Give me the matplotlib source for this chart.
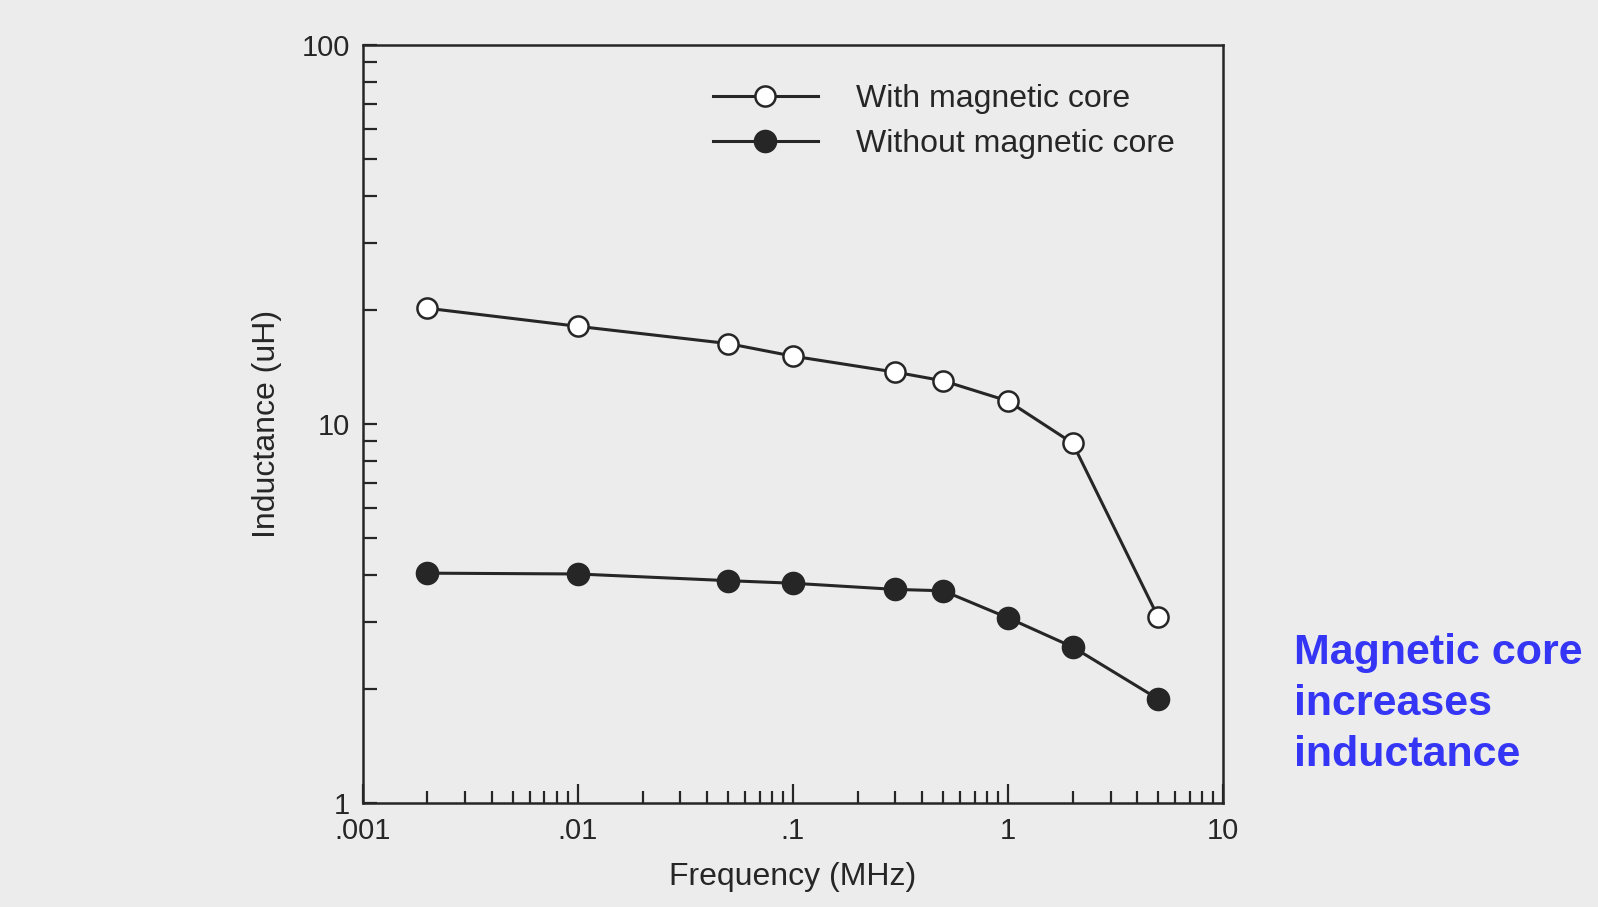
import matplotlib
matplotlib.use('Agg')
import matplotlib.pyplot as plt
from matplotlib.ticker import FixedLocator, LogLocator, NullFormatter

plt.rcParams['font.family'] = ['Liberation Sans', 'DejaVu Sans']

## DATA
freq_mhz = [0.002, 0.01, 0.05, 0.1, 0.3, 0.5, 1, 2, 5]
with_core = [20.2, 18.1, 16.3, 15.1, 13.7, 13.0, 11.5, 8.9, 3.09]
without_core = [4.04, 4.02, 3.86, 3.80, 3.66, 3.63, 3.08, 2.58, 1.88]

x_ticks = [0.001, 0.01, 0.1, 1, 10]
x_tick_labels = ['.001', '.01', '.1', '1', '10']
y_ticks = [1, 10, 100]
y_tick_labels = ['1', '10', '100']

ink = '#262626'
bg = '#ececec'

fig = plt.figure(figsize=(15.98, 9.07), dpi=100, facecolor=bg)
ax = fig.add_axes([0.227, 0.1147, 0.5383, 0.8357], facecolor=bg)

ax.plot(freq_mhz, with_core, color=ink, lw=2.2, marker='o', ms=14.5,
        mfc='white', mec=ink, mew=1.8, label='With magnetic core')
ax.plot(freq_mhz, without_core, color=ink, lw=2.2, marker='o', ms=15.5,
        mfc=ink, mec=ink, mew=1.5, label='Without magnetic core')

ax.set_xscale('log')
ax.set_yscale('log')
ax.set_xlim(0.001, 10)
ax.set_ylim(1, 100)

ax.xaxis.set_major_locator(FixedLocator(x_ticks))
ax.set_xticklabels(x_tick_labels)
ax.yaxis.set_major_locator(FixedLocator(y_ticks))
ax.set_yticklabels(y_tick_labels)
ax.xaxis.set_minor_locator(LogLocator(base=10, subs=range(2, 10)))
ax.yaxis.set_minor_locator(LogLocator(base=10, subs=range(2, 10)))
ax.xaxis.set_minor_formatter(NullFormatter())
ax.yaxis.set_minor_formatter(NullFormatter())

ax.tick_params(which='both', direction='in', top=False, right=False,
               color=ink, width=1.6, labelcolor=ink, labelsize=21)
ax.tick_params(axis='x', which='major', length=14, pad=10)
ax.tick_params(axis='x', which='minor', length=9)
ax.tick_params(axis='y', which='major', length=10, pad=9)
ax.tick_params(axis='y', which='minor', length=10)
for s in ax.spines.values():
    s.set_color(ink)
    s.set_linewidth(1.8)

ax.set_xlabel('Frequency (MHz)', fontsize=23, color=ink, labelpad=12)
ax.set_ylabel('Inductance (uH)', fontsize=23, color=ink, labelpad=14)

ax.legend(loc='center left', bbox_to_anchor=(0.407, 0.899), frameon=False,
          fontsize=23, handlelength=3.29, handletextpad=1.2, labelspacing=0.48,
          borderpad=0, borderaxespad=0, labelcolor=ink)

fig.text(0.8095, 0.2235, 'Magnetic core\nincreases\ninductance', color='#3535f5',
         fontsize=31, fontweight='bold', ha='left', va='center', linespacing=1.35)

fig.savefig('out.png', dpi=100, facecolor=bg)
